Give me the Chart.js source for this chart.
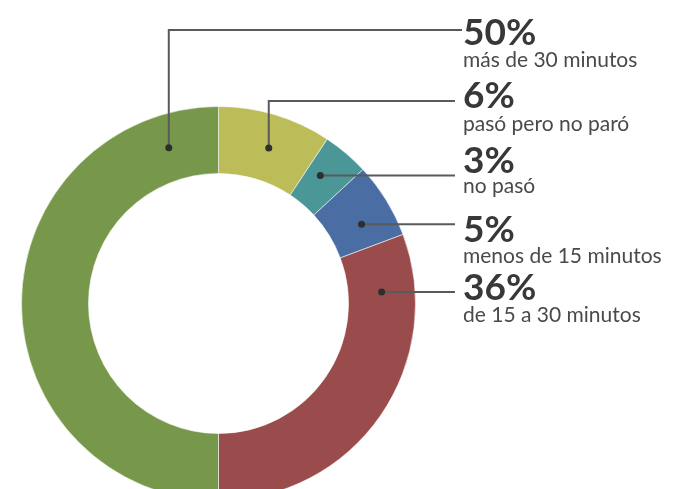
<!DOCTYPE html>
<html lang="es">
<head>
<meta charset="utf-8">
<title>Tiempo de espera</title>
<script src="https://cdn.jsdelivr.net/npm/chart.js@4/dist/chart.umd.min.js"></script>
<style>
    html, body { margin: 0; padding: 0; background: #fff; overflow: hidden; }
    #wrap { width: 674px; height: 489px; overflow: hidden; }
</style>
</head>
<body>
<div id="wrap">
    <canvas id="chartWait" width="674" height="520"></canvas>
</div>
<script>
// Slices clockwise from 12 o'clock. arcShare is the size each slice is drawn at
// in the picture; printedPercent is the number written next to it.
const categories = ['pasó pero no paró', 'no pasó', 'menos de 15 minutos', 'de 15 a 30 minutos', 'más de 30 minutos'];
const arcShare = [9.3, 3.8, 6.2, 30.7, 50];
const printedPercent = ['6%', '3%', '5%', '36%', '50%'];
const sliceColors = ['#bcbd58', '#4b9798', '#4a6ea4', '#9a4b4c', '#77984a'];

// callout placement for each slice (same order as above)
const callouts = [
    { angle: 17.9, lineY: 101, lineEnd: 455, numY: 108, subY: 131 },
    { angle: 38.5, lineY: null, lineEnd: 455, numY: 173, subY: 193 },
    { angle: 61, lineY: null, lineEnd: 455, numY: 242, subY: 263 },
    { angle: 86, lineY: null, lineEnd: 455, numY: 300, subY: 322 },
    { angle: -17.7, lineY: 30, lineEnd: 462, numY: 45, subY: 67 },
];

const calloutPlugin = {
    id: 'callouts',
    afterDatasetsDraw(chart) {
        const meta = chart.getDatasetMeta(0);
        const ctx = chart.ctx;
        const textX = 463;
        ctx.save();
        meta.data.forEach((arc, i) => {
            const c = callouts[i];
            const rMid = (arc.innerRadius + arc.outerRadius) / 2;
            const a = c.angle * Math.PI / 180;
            const dx = arc.x + rMid * Math.sin(a);
            const dy = arc.y - rMid * Math.cos(a);
            const ly = c.lineY === null ? dy : c.lineY;

            ctx.strokeStyle = '#5a5a5a';
            ctx.lineWidth = 2;
            ctx.beginPath();
            ctx.moveTo(dx, dy);
            if (ly !== dy) ctx.lineTo(dx, ly);
            ctx.lineTo(c.lineEnd, ly);
            ctx.stroke();

            ctx.fillStyle = '#2e2e2e';
            ctx.beginPath();
            ctx.arc(dx, dy, 3.5, 0, Math.PI * 2);
            ctx.fill();

            ctx.textAlign = 'left';
            ctx.textBaseline = 'alphabetic';
            ctx.fillStyle = '#383838';
            ctx.font = 'bold 37px Lato, "Open Sans", sans-serif';
            ctx.fillText(printedPercent[i], textX, c.numY);
            ctx.fillStyle = '#4a4a4a';
            ctx.font = '21px Lato, "Open Sans", sans-serif';
            ctx.fillText(categories[i], textX, c.subY);
        });
        ctx.restore();
    },
};

const canvas = document.getElementById('chartWait');
new Chart(canvas.getContext('2d'), {
    type: 'doughnut',
    data: {
        labels: categories,
        datasets: [{
            data: arcShare,
            backgroundColor: sliceColors,
            borderColor: 'rgba(255, 255, 255, 0.55)',
            borderWidth: 1,
        }],
    },
    options: {
        responsive: false,
        animation: false,
        cutout: '66%',
        layout: { padding: { left: 21, top: 106, right: 258, bottom: 19 } },
        plugins: {
            legend: { display: false },
            tooltip: { enabled: false },
        },
    },
    plugins: [calloutPlugin],
});
</script>
</body>
</html>
